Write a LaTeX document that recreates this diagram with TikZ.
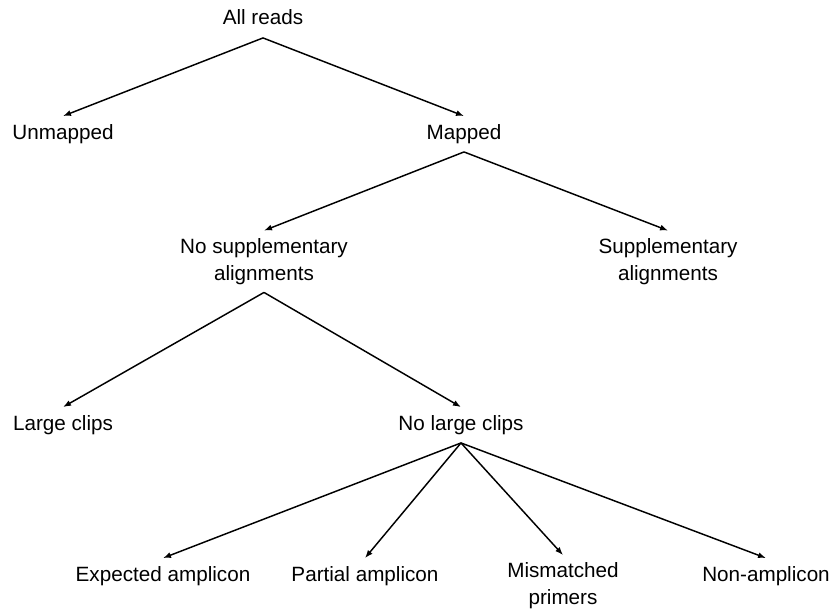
\documentclass[tikz,border=0pt]{standalone}
\usepackage{fontspec}
\setmainfont{Liberation Sans}
\usetikzlibrary{arrows.meta}
\begin{document}
\begin{tikzpicture}[x=0.75pt,y=-0.75pt,
  lbl/.style={font=\fontsize{15.5}{20.3}\selectfont, align=center, inner xsep=0pt, inner ysep=6pt,
    text height=11pt, text depth=3.5pt},
  lbltwo/.style={font=\fontsize{15.5}{20.3}\selectfont, align=center, inner sep=0pt,
    minimum height=46pt},
  arr/.style={-{Latex[length=6pt,width=4.5pt]}, line width=1.1pt}]
\useasboundingbox (0,0) rectangle (834,610);
\node[lbl] (all) at (263,20) {All reads};
\node[lbl] (unm) at (63,134) {Unmapped};
\node[lbl] (map) at (464,134) {Mapped};
\node[lbltwo] (nsa) at (264,261.5) {No supplementary\\alignments};
\node[lbltwo] (sa) at (668,261.5) {Supplementary\\alignments};
\node[lbl] (lc) at (63,425) {Large clips};
\node[lbl] (nlc) at (461,425) {No large clips};
\node[lbl] (exp) at (163,576) {Expected amplicon};
\node[lbl] (par) at (365,576) {Partial amplicon};
\node[lbltwo] (mis) at (563,586) {Mismatched\\primers};
\node[lbl] (non) at (766,576) {Non-amplicon};
\draw[arr] (all.south) -- (unm.north);
\draw[arr] (all.south) -- (map.north);
\draw[arr] (map.south) -- (nsa.north);
\draw[arr] (map.south) -- (sa.north);
\draw[arr] (nsa.south) -- (lc.north);
\draw[arr] (nsa.south) -- (nlc.north);
\draw[arr] (nlc.south) -- (exp.north);
\draw[arr] (nlc.south) -- (par.north);
\draw[arr] (nlc.south) -- (mis.north);
\draw[arr] (nlc.south) -- (non.north);
\end{tikzpicture}
\end{document}
